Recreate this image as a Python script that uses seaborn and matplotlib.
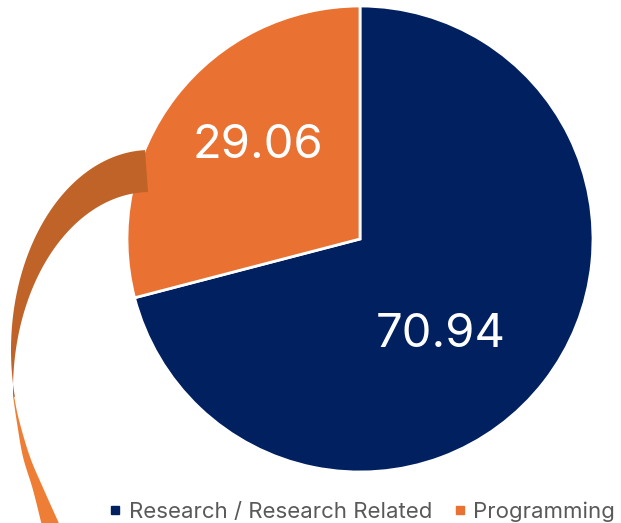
import numpy as np
import matplotlib
matplotlib.use("Agg")
import matplotlib.pyplot as plt
import seaborn as sns
from matplotlib.patches import Polygon
from matplotlib.lines import Line2D

# data
categories = ["Research / Research Related", "Programming"]
values = [70.94, 29.06]
colors = ["#002060", "#E97132"]

sns.set_theme(style="white")
plt.rcParams['font.family'] = ['Inter', 'DejaVu Sans']

fig = plt.figure(figsize=(6.21, 5.23), dpi=100)
W, H = 621, 523

# curved arrow decoration, in pixel space (y measured from top)
def to_fig(x, y):
    return np.column_stack([np.asarray(x) / W, 1 - np.asarray(y) / H])

# dark face: band between two elliptical arcs
t = np.linspace(np.arccos(5 / 139), -0.237, 120)
ox, oy = 150 - 139 * np.cos(t), 350 - 200 * np.sin(t)
s = np.linspace(np.arccos(2 / 137), -0.035, 120)
ix, iy = 150 - 137 * np.cos(s), 390 - 198 * np.sin(s)
dark = np.vstack([to_fig(ox, oy), to_fig(ix, iy)[::-1]])

# light face: the twisted tail below
def smooth(pts, n=10):
    pts = np.asarray(pts, float)
    p = np.vstack([2 * pts[0] - pts[1], pts, 2 * pts[-1] - pts[-2]])
    out = []
    for i in range(1, len(p) - 2):
        p0, p1, p2, p3 = p[i - 1], p[i], p[i + 1], p[i + 2]
        for u in np.linspace(0, 1, n, endpoint=False):
            out.append(0.5 * ((2 * p1) + (-p0 + p2) * u + (2 * p0 - 5 * p1 + 4 * p2 - p3) * u ** 2
                              + (-p0 + 3 * p1 - 3 * p2 + p3) * u ** 3))
    out.append(pts[-1])
    return np.array(out)

light_left = smooth([(13, 396), (17, 423), (23, 457), (33, 490), (43, 530)])
light_right = smooth([(14, 396), (19, 420), (30, 457), (44, 490), (62, 530)])
light = np.vstack([to_fig(light_left[:, 0], light_left[:, 1]),
                   to_fig(light_right[::-1, 0], light_right[::-1, 1])])

fig.patches.append(Polygon(dark, closed=True, transform=fig.transFigure,
                           facecolor="#BF6328", edgecolor="none", zorder=0))
fig.patches.append(Polygon(light, closed=True, transform=fig.transFigure,
                           facecolor="#EE7E35", edgecolor="none", zorder=0))

# pie
cx, cy, r = 360, 239, 233
ax = fig.add_axes([(cx - r) / W, (H - cy - r) / H, 2 * r / W, 2 * r / H])
ax.pie(values, colors=colors, startangle=90, counterclock=False, radius=1,
       wedgeprops=dict(edgecolor="white", linewidth=2))
ax.set_xlim(-1, 1)
ax.set_ylim(-1, 1)
ax.set_aspect("equal")
ax.axis("off")

ax.text(0.345, -0.41, f"{values[0]:.2f}", color="white", fontsize=34,
        ha="center", va="center")
ax.text(-0.44, 0.40, f"{values[1]:.2f}", color="white", fontsize=34,
        ha="center", va="center")

handles = [Line2D([], [], marker="s", linestyle="none", markersize=6,
                  markerfacecolor=c, markeredgecolor=c) for c in colors]
leg = fig.legend(handles, categories, loc="center left", ncol=2,
                 bbox_to_anchor=(0.177, 0.022), frameon=False, fontsize=16,
                 handlelength=0.5, handletextpad=0.35, columnspacing=1.0,
                 labelcolor="#595959", borderaxespad=0, borderpad=0)

fig.savefig("out.png", dpi=100)
